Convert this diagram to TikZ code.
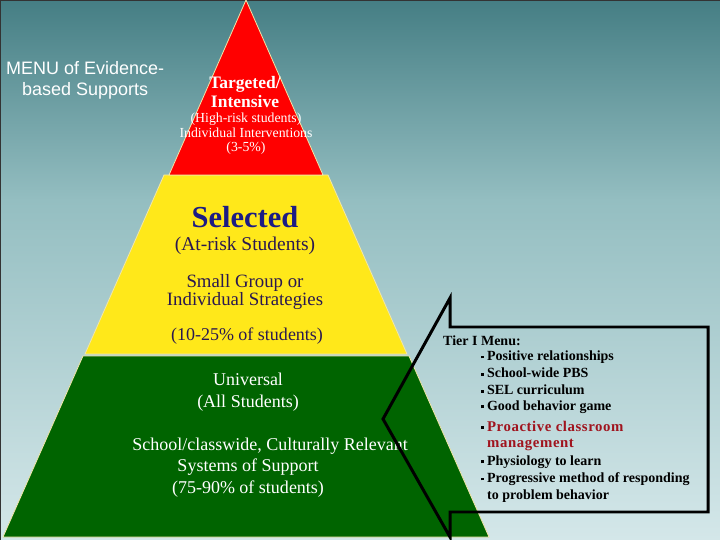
\documentclass[tikz,border=0pt]{standalone}
\usepackage{fontspec}
\setmainfont{Liberation Serif}
\setsansfont{Liberation Sans}
\usetikzlibrary{positioning}

\definecolor{bgtop}{HTML}{457E84}
\definecolor{bgmid}{HTML}{94BEC1}
\definecolor{bglow}{HTML}{BAD7DA}
\definecolor{bgbot}{HTML}{D4E7E9}
\definecolor{tierred}{HTML}{FF0000}
\definecolor{tieryellow}{HTML}{FFE81A}
\definecolor{tiergreen}{HTML}{006400}
\definecolor{edgepale}{HTML}{F2E6A8}
\definecolor{selblue}{HTML}{1C1C84}
\definecolor{seltext}{HTML}{2A1850}
\definecolor{menured}{HTML}{A0141E}

\newcommand{\sqbul}{\rule[0.32ex]{2.8bp}{2.8bp}\hspace{3bp}}
\newcommand{\px}[2]{\fontsize{#1bp}{#2bp}\selectfont}

\tikzset{
  band/.style={draw=edgepale,line width=.8pt},
  lbl/.style={inner sep=0pt,align=center},
  menuitem/.style={inner sep=0pt,anchor=west,font=\px{14}{16}\bfseries},
}

\begin{document}
\begin{tikzpicture}[x=1bp,y=-1bp]
\useasboundingbox (0,0) rectangle (720,540);
% background
\shade[top color=bgtop,bottom color=bgmid] (0,0) rectangle (720,200.5);
\shade[top color=bgmid,middle color=bglow,bottom color=bgbot] (0,200) rectangle (720,540);
\draw[line width=1.5pt,black!80] (0,540) -- (0,0) -- (720,0);

% pyramid bands
\fill[tiergreen,band] (83,356) -- (409,356) -- (489,537) -- (3,537) -- cycle;
\fill[tieryellow,band] (164,175) -- (328,175) -- (407,354) -- (85,354) -- cycle;
\fill[tierred,band] (246,0) -- (323,175) -- (169,175) -- cycle;

\node[lbl,anchor=west,text=white,font=\sffamily\px{18}{21}] (menu) at (6,80.5)
  {MENU of Evidence-\\based Supports};

% red tier
\node[lbl,text=white,font=\px{17.5}{19}\bfseries] (tgt) at (245,92.5) {Targeted/\\Intensive};
\node[lbl,text=white,font=\px{13.8}{14.5}] (tgtsub) at (246,134) {(High-risk students)\\Individual Interventions\\(3-5\%)};

% yellow tier
\node[lbl,text=selblue,font=\px{30.5}{32}\bfseries] (sel) at (245,217) {Selected};
\node[lbl,text=seltext,font=\px{19.5}{20}] (selrisk) at (245,246) {(At-risk Students)};
\node[lbl,text=seltext,font=\px{18.8}{16.5}] (selgrp) at (245,292) {Small Group or\\Individual Strategies};
\node[lbl,text=seltext,font=\px{18}{20}] (selpct) at (247,336) {(10-25\% of students)};

% green tier
\node[lbl,text=white,font=\px{18}{22}] (uni) at (248,392) {Universal\\(All Students)};
\node[lbl,text=white,font=\px{18}{22}] (unisys) at (270,446) {School/classwide, Culturally Relevant};
\node[lbl,text=white,font=\px{18}{22}] (unipct) at (248,478) {Systems of Support\\(75-90\% of students)};

% callout
\draw[line width=3pt,line join=miter] (450,298) -- (450,327) -- (708,327) -- (708,512)
  -- (450,512) -- (450,537) -- (383,419) -- cycle;

\node[menuitem] (tier) at (443,341) {Tier I Menu:};
\node[menuitem] (m1) at (481,357) {\sqbul Positive relationships};
\node[menuitem] (m2) at (481,373) {\sqbul School-wide PBS};
\node[menuitem] (m3) at (481,390) {\sqbul SEL curriculum};
\node[menuitem] (m4) at (481,407) {\sqbul Good behavior game};
\node[menuitem] (m5) at (481,426) {\sqbul\textcolor{menured}{\px{14.8}{16}\addfontfeatures{LetterSpace=4}Proactive classroom}};
\node[menuitem,text=menured,font=\px{14.8}{16}\bfseries\addfontfeatures{LetterSpace=4}] (m5b) at (487,445) {management};
\node[menuitem] (m6) at (481,462) {\sqbul Physiology to learn};
\node[menuitem] (m7) at (481,479) {\sqbul Progressive method of responding};
\node[menuitem] (m7b) at (487,496) {to problem behavior};
\end{tikzpicture}
\end{document}
